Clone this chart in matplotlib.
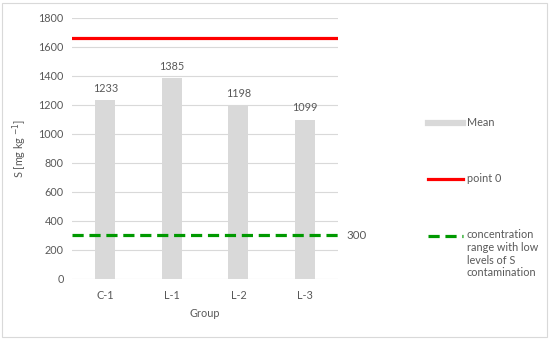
import matplotlib.pyplot as plt
from matplotlib.lines import Line2D
from matplotlib.patches import Rectangle

# data
groups = ['C-1', 'L-1', 'L-2', 'L-3']
means = [1233, 1385, 1198, 1099]
point_zero = 1665
low_level = 300

txt = '#595959'
plt.rcParams['font.family'] = ['Lato', 'DejaVu Sans']
fs = 7.8

fig = plt.figure(figsize=(5.5, 3.39), dpi=100)
ax = fig.add_axes([0.131, 0.177, 0.484, 0.77])

x = range(len(groups))
bars = ax.bar(x, means, width=0.3, color='#d9d9d9', zorder=2)
for xi, v in zip(x, means):
    ax.text(xi, v + 45, str(v), ha='center', va='bottom', color=txt, fontsize=fs)

ax.axhline(point_zero, color='#ff0000', lw=2.3, zorder=3)
ax.axhline(low_level, color='#009900', lw=2.3, ls=(0, (3.5, 1.8)), zorder=3)
ax.text(1.07, low_level, str(low_level), transform=ax.get_yaxis_transform(),
        ha='center', va='center', color=txt, fontsize=fs + 0.5)

ax.set_xlim(-0.5, len(groups) - 0.5)
ax.set_ylim(0, 1800)
ax.set_yticks(range(0, 1801, 200))
ax.set_xticks(list(x))
ax.set_xticklabels(groups)
ax.yaxis.grid(True, color='#d9d9d9', lw=0.8, zorder=0)
ax.set_axisbelow(True)
for s in ax.spines.values():
    s.set_visible(False)
ax.tick_params(length=0, colors=txt, labelsize=fs)
ax.tick_params(axis='x', pad=8)
ax.tick_params(axis='y', pad=6)
ax.set_xlabel('Group', color=txt, fontsize=fs, labelpad=5)
ax.set_ylabel('S [mg kg $^{-1}$]', color=txt, fontsize=fs, labelpad=7)

# legend drawn by hand to keep the wide spacing
lx0, lx1, tx = 0.778, 0.842, 0.849
fig.add_artist(Line2D([lx0, lx1], [1 - 123/339] * 2, color='#d9d9d9', lw=4.5))
fig.text(tx, 1 - 123/339, 'Mean', va='center', color=txt, fontsize=fs)
fig.add_artist(Line2D([lx0, lx1], [1 - 179/339] * 2, color='#ff0000', lw=2.3))
fig.text(tx, 1 - 179/339, 'point 0', va='center', color=txt, fontsize=fs)
fig.add_artist(Line2D([lx0, lx1], [1 - 236/339] * 2, color='#009900', lw=2.3,
                      ls=(0, (3.5, 1.8))))
fig.text(tx, 1 - 229/339, 'concentration\nrange with low\nlevels of S\ncontamination',
         va='top', color=txt, fontsize=fs, linespacing=1.2)

fig.add_artist(Rectangle((0.004, 0.006), 0.99, 0.986, transform=fig.transFigure,
                         fill=False, edgecolor='#d9d9d9', lw=0.8))

fig.savefig('out.png', dpi=100)
